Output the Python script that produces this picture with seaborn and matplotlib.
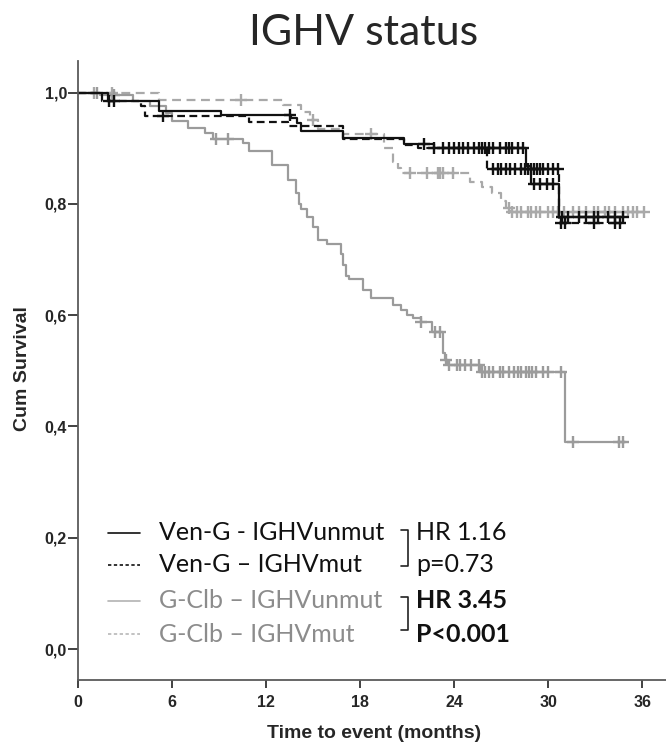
import numpy as np
import pandas as pd
import matplotlib
matplotlib.use("Agg")
import matplotlib.pyplot as plt
from matplotlib.lines import Line2D
from matplotlib.ticker import FuncFormatter
import seaborn as sns

# ---------------- data ----------------
# Ven-G, IGHV unmutated (black solid)
veng_unmut_t = [1.9, 5.2, 9.1, 13.6, 14.0, 14.2, 16.9, 20.8, 22.7, 28.6, 28.9, 30.7]
veng_unmut_s = [0.984, 0.966, 0.960, 0.955, 0.946, 0.930, 0.919, 0.908, 0.900, 0.868, 0.835, 0.777]
veng_unmut_end = 34.8
veng_unmut_cens = [2.3, 13.5, 22.1, 23.3, 23.7, 24.3, 24.9, 25.3, 25.8, 26.2, 26.5, 26.9, 27.3,
                   27.5, 27.7, 28.1, 28.4, 29.1, 29.5, 29.9, 30.3, 30.9, 31.3, 32.0, 32.4,
                   32.9, 33.2, 33.8, 34.3, 34.8]

# Ven-G, IGHV mutated (black dashed)
veng_mut_t = [1.5, 4.0, 4.3, 10.9, 13.4, 16.9, 20.8, 21.7, 26.1, 30.7]
veng_mut_s = [0.985, 0.975, 0.957, 0.947, 0.940, 0.916, 0.905, 0.900, 0.862, 0.766]
veng_mut_end = 34.7
veng_mut_cens = [2.0, 5.4, 22.7, 24.0, 24.6, 25.6, 26.0, 26.5, 26.8, 27.0, 27.3, 27.6, 27.9,
                 28.3, 28.5, 28.7, 28.9, 29.1, 29.3, 29.5, 29.7, 30.0, 30.3, 30.6, 30.8,
                 31.1, 32.9, 34.3, 34.6]

# G-Clb, IGHV unmutated (gray solid)
gclb_unmut_t = [1.4, 3.5, 4.6, 5.6, 6.0, 7.0, 8.1, 8.6, 10.5, 10.9, 12.4, 13.4, 13.9, 14.1,
                14.2, 14.6, 15.0, 15.3, 15.9, 16.8, 16.9, 17.1, 17.3, 18.2, 18.7, 20.1,
                20.6, 21.0, 21.4, 21.9, 22.6, 23.3, 23.4, 23.6, 25.7, 31.1]
gclb_unmut_s = [0.995, 0.985, 0.975, 0.963, 0.948, 0.937, 0.928, 0.916, 0.910, 0.894, 0.870,
                0.843, 0.820, 0.800, 0.790, 0.777, 0.759, 0.735, 0.727, 0.709, 0.690, 0.670,
                0.664, 0.645, 0.631, 0.618, 0.609, 0.600, 0.595, 0.588, 0.570, 0.532, 0.520,
                0.511, 0.498, 0.372]
gclb_unmut_end = 35.0
gclb_unmut_cens = [1.2, 2.3, 8.8, 9.6, 21.9, 22.8, 23.1, 23.5, 23.7, 24.2, 24.4, 24.7, 25.1,
                   25.6, 25.8, 26.0, 26.2, 26.5, 26.9, 27.1, 27.5, 27.8, 28.1, 28.3, 28.6,
                   28.8, 29.0, 29.2, 29.7, 30.0, 30.8, 31.6, 34.5, 34.8]

# G-Clb, IGHV mutated (gray dashed)
gclb_mut_t = [5.2, 13.1, 14.2, 14.8, 15.3, 16.9, 19.5, 20.1, 20.4, 20.6, 25.0, 25.8, 26.4,
              27.0, 27.3, 27.6]
gclb_mut_s = [0.987, 0.977, 0.965, 0.950, 0.934, 0.925, 0.901, 0.876, 0.865, 0.856, 0.840,
              0.830, 0.820, 0.805, 0.792, 0.786]
gclb_mut_end = 36.1
gclb_mut_cens = [1.0, 2.2, 10.4, 15.0, 18.7, 21.2, 22.3, 23.0, 23.1, 23.3, 23.9, 27.5, 27.7,
                 28.0, 28.3, 28.7, 28.9, 29.2, 29.5, 30.0, 30.3, 30.6, 31.0, 31.6, 32.0,
                 32.4, 32.9, 33.2, 33.6, 33.9, 34.3, 34.8, 35.1, 35.4, 35.7, 36.1]

series_labels = ["Ven-G - IGHVunmut", "Ven-G \u2013 IGHVmut",
                 "G-Clb \u2013 IGHVunmut", "G-Clb \u2013 IGHVmut"]
stat_labels = ["HR 1.16", "p=0.73", "HR 3.45", "P<0.001"]
x_ticks = [0, 6, 12, 18, 24, 30, 36]
y_ticks = [0.0, 0.2, 0.4, 0.6, 0.8, 1.0]

# ---------------- style ----------------
sns.set_style("ticks")
plt.rcParams["font.family"] = ["Liberation Sans", "DejaVu Sans"]

BLACK = "#111111"
GRAY_S = "#9b9b9b"
GRAY_D = "#a9a9a9"
AX_COL = "#5a5a5a"

series = [
    (veng_unmut_t, veng_unmut_s, veng_unmut_end, veng_unmut_cens, BLACK, (None, None)),
    (veng_mut_t, veng_mut_s, veng_mut_end, veng_mut_cens, BLACK, (3.5, 2.0)),
    (gclb_unmut_t, gclb_unmut_s, gclb_unmut_end, gclb_unmut_cens, GRAY_S, (None, None)),
    (gclb_mut_t, gclb_mut_s, gclb_mut_end, gclb_mut_cens, GRAY_D, (4.0, 2.5)),
]

W, H = 666, 744
fig = plt.figure(figsize=(W / 100, H / 100), dpi=100)
ax = fig.add_axes([78 / W, 1 - 680 / H, (W - 78) / W, (680 - 61) / H])

# draw in order: gray first, black on top
for idx in [3, 2, 1, 0]:
    t, s, t_end, cens, col, dash = series[idx]
    times = np.array([0.0] + list(t) + [t_end])
    surv = np.array([1.0] + list(s) + [s[-1]])
    df = pd.DataFrame({"time": times, "surv": surv})
    sns.lineplot(x="time", y="surv", data=df, drawstyle="steps-post", color=col,
                 linewidth=1.6, estimator=None, sort=False, ax=ax, legend=False)
    ln = ax.lines[-1]
    if dash[0] is not None:
        ln.set_dashes(dash)
    # censor marks on the curve
    c = np.array(cens)
    idxs = np.searchsorted(times, c, side="right") - 1
    cy = surv[np.clip(idxs, 0, len(surv) - 1)]
    ax.plot(c, cy, linestyle="none", marker="+", markersize=8.5, mew=1.7, color=col)

ax.set_xlim(0, 588 / 15.67)
ax.set_ylim(-31 / 556.5, 588 / 556.5)
ax.set_xticks(x_ticks)
ax.set_yticks(y_ticks)
ax.yaxis.set_major_formatter(FuncFormatter(lambda v, p: f"{v:.1f}".replace(".", ",")))
ax.set_xlabel("")
ax.set_ylabel("")
sns.despine(ax=ax)
for sp in ["left", "bottom"]:
    ax.spines[sp].set_color(AX_COL)
    ax.spines[sp].set_linewidth(1.3)
ax.tick_params(axis="y", direction="out", length=7, width=1.3, color="#333333", pad=1,
               labelsize=11.5)
ax.tick_params(axis="x", direction="out", length=6, width=1.3, color="#333333", pad=5,
               labelsize=11.5)
for lab in ax.get_xticklabels() + ax.get_yticklabels():
    lab.set_fontweight("bold")

# axis labels
fig.text(374 / W, 1 - 734 / H, "Time to event (months)", ha="center", va="center",
         fontsize=14, fontweight="bold")
fig.text(23 / W, 1 - 369 / H, "Cum Survival", ha="center", va="center", rotation=90,
         fontsize=14, fontweight="bold")

# title
fig.text(364 / W, 1 - 33 / H, "IGHV status", ha="center", va="center",
         fontsize=31, family=["Lato", "DejaVu Sans"])

# legend (manual)
rows_y = [533, 565, 601, 634]
txt_cols = [BLACK, BLACK, "#8c8c8c", "#8c8c8c"]
leg_cols = [BLACK, BLACK, "#b3b3b3", "#b8b8b8"]
leg_dash = [None, (2.0, 1.5), None, (2.0, 1.5)]
for i, yy in enumerate(rows_y):
    yf = 1 - yy / H
    l = Line2D([108 / W, 140 / W], [yf, yf], transform=fig.transFigure,
               color=leg_cols[i], linewidth=1.2)
    if leg_dash[i] is not None:
        l.set_dashes(leg_dash[i])
    fig.add_artist(l)
    fig.text(159 / W, yf, series_labels[i], ha="left", va="center", fontsize=18,
             color=txt_cols[i], family=["Lato", "DejaVu Sans"])
    fig.text(416 / W, yf, stat_labels[i], ha="left", va="center", fontsize=18,
             color=BLACK, fontweight="bold" if i >= 2 else "normal",
             family=["Lato", "DejaVu Sans"])

# brackets
for (y0, y1) in [(530, 566), (597, 630)]:
    xs = [401 / W, 408 / W, 408 / W, 401 / W]
    ys = [1 - y0 / H, 1 - y0 / H, 1 - y1 / H, 1 - y1 / H]
    fig.add_artist(Line2D(xs, ys, transform=fig.transFigure, color="#222222", linewidth=1.2))

fig.savefig("out.png", dpi=100)
